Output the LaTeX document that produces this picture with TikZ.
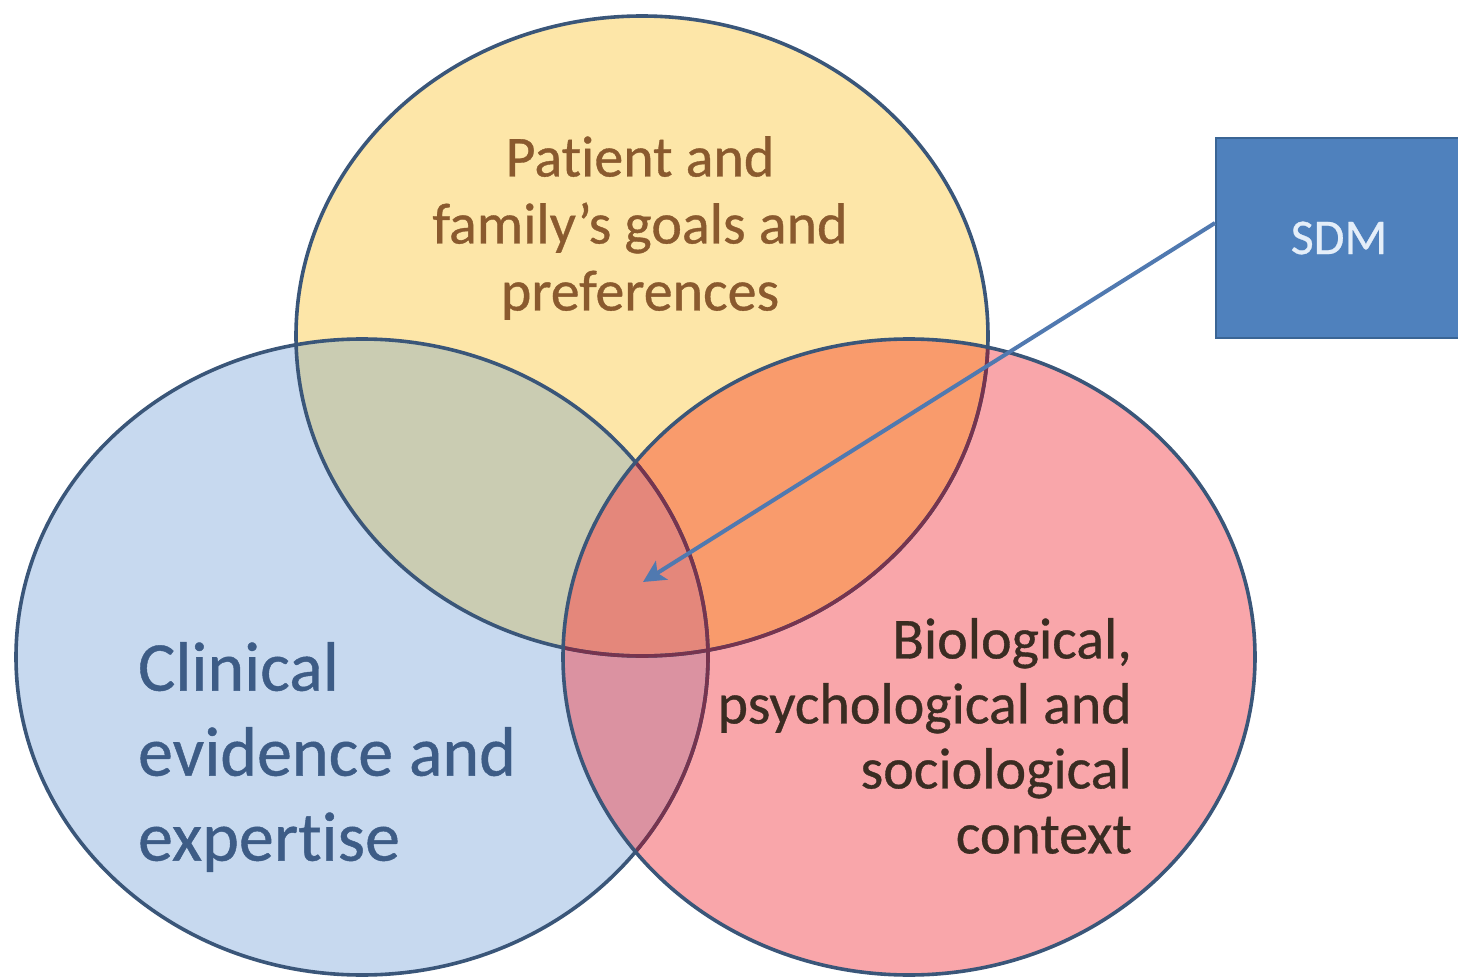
\documentclass[tikz,border=0pt]{standalone}
\usepackage{fontspec}
\setmainfont{Carlito}[Ligatures=CommonOff,FakeBold=0.6]
\usetikzlibrary{arrows.meta}

% region fills
\definecolor{yfill}{HTML}{FDE6A8}
\definecolor{bfill}{HTML}{C7D9EF}
\definecolor{pfill}{HTML}{F9A6AA}
\definecolor{ybfill}{HTML}{CACCB2}
\definecolor{ypfill}{HTML}{F99B6C}
\definecolor{bpfill}{HTML}{DB92A1}
\definecolor{ybpfill}{HTML}{E4877B}
% outlines and text
\definecolor{rim}{HTML}{3A5679}
\definecolor{rimdeep}{HTML}{76344F}
\definecolor{ytxt}{HTML}{8A5A2E}
\definecolor{btxt}{HTML}{3D5C86}
\definecolor{ptxt}{HTML}{3A2C22}
\definecolor{sdmfill}{HTML}{4F81BD}
\definecolor{sdmrim}{HTML}{3A6595}
\definecolor{sdmtxt}{HTML}{E4EEF9}
\definecolor{pointer}{HTML}{5079B0}

\begin{document}
\begin{tikzpicture}[x=0.5pt,y=-0.5pt,
  rimline/.style={draw=rim,line width=1.8pt},
  ylabel/.style={text=ytxt,align=center,font=\fontsize{29}{33.5}\selectfont},
  blabel/.style={text=btxt,align=left,font=\fontsize{35}{42.5}\selectfont},
  plabel/.style={text=ptxt,align=right,font=\fontsize{29}{32.5}\selectfont},
  sdmbox/.style={fill=sdmfill,draw=sdmrim,line width=1pt,minimum width=123pt,
    minimum height=100pt,text=sdmtxt,font=\fontsize{25}{30}\selectfont,inner sep=0pt},
  pointerline/.style={draw=pointer,line width=2pt,-{Stealth[length=11pt,width=11pt,inset=2.5pt]}}]

\useasboundingbox (0,0) rectangle (1458,979);
\fill[white] (0,0) rectangle (1458,979);

\def\Ypath{(642,336) ellipse [x radius=346, y radius=320]}
\def\Bpath{(362,657) ellipse [x radius=346, y radius=318]}
\def\Ppath{(909,657) ellipse [x radius=346, y radius=318]}

% single-set fills
\fill[yfill] \Ypath;
\fill[bfill] \Bpath;
\fill[pfill] \Ppath;

% pairwise overlaps
\begin{scope}\clip \Ypath; \fill[ybfill] \Bpath; \end{scope}
\begin{scope}\clip \Ypath; \fill[ypfill] \Ppath; \end{scope}
\begin{scope}\clip \Bpath; \fill[bpfill] \Ppath; \end{scope}
% centre of the three sets
\begin{scope}\clip \Ypath; \clip \Bpath; \fill[ybpfill] \Ppath; \end{scope}

% outlines: tinted where they pass under the pink set
\draw[rimline] \Ypath;
\draw[rimline] \Bpath;
\begin{scope}\clip \Ppath;
  \draw[rimline,draw=rimdeep] \Ypath;
  \draw[rimline,draw=rimdeep] \Bpath;
\end{scope}
\draw[rimline] \Ppath;

% labels
\node[ylabel] (pat) at (640,228) {Patient and\\family’s goals and\\preferences};
\node[blabel,anchor=west] (clin) at (131,757) {Clinical\\evidence and\\expertise};
\node[plabel,anchor=east] (bio) at (1139,736) {Biological,\\psychological and\\sociological\\context};

% SDM box and pointer
\node[sdmbox] (sdm) at (1339,238) {SDM};
\coordinate (core) at (643,582);
\draw[pointerline] ([yshift=7.5pt]sdm.west) -- (core);
\end{tikzpicture}
\end{document}
